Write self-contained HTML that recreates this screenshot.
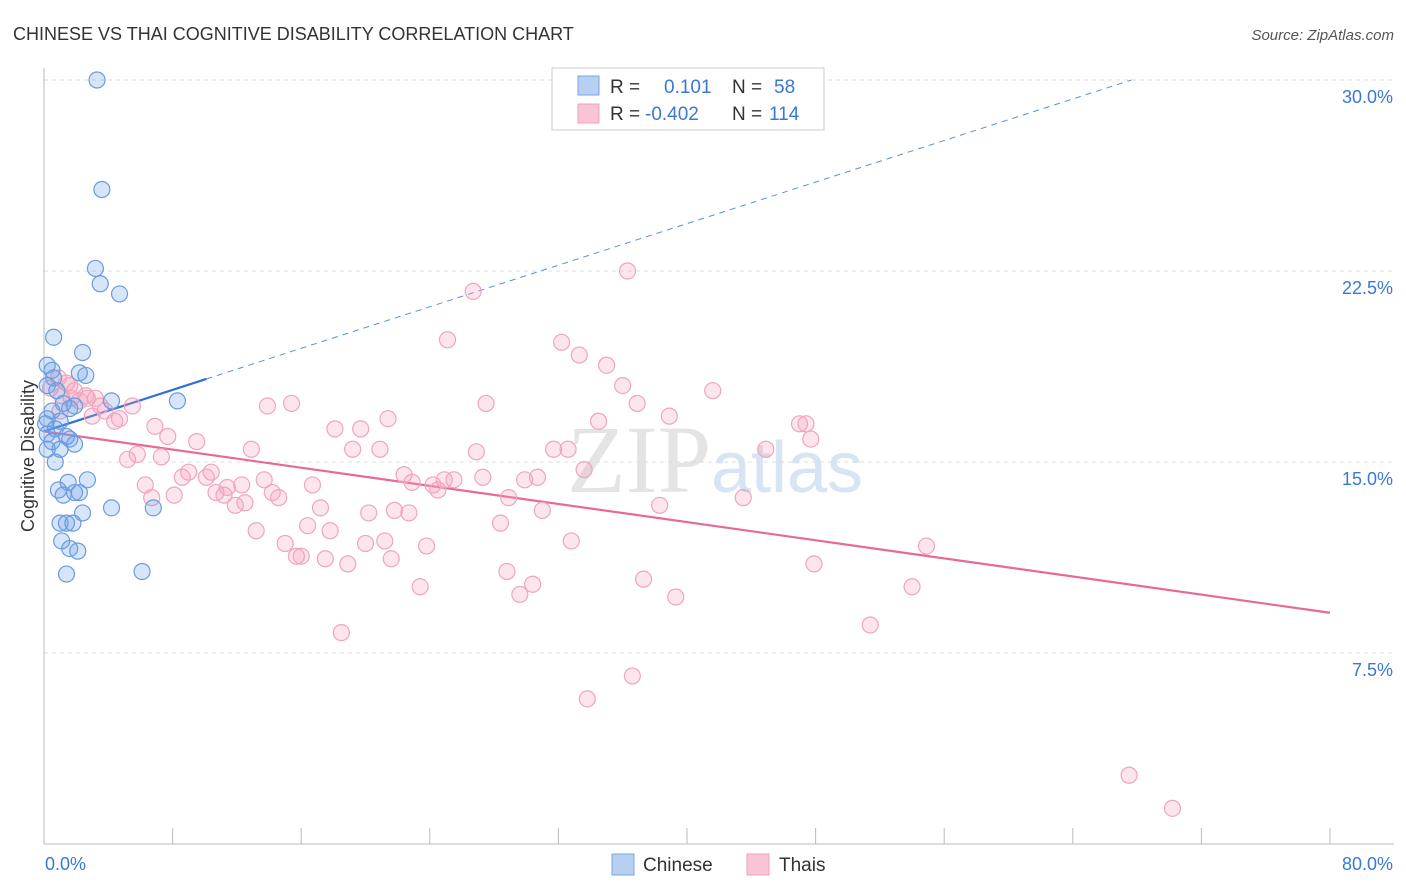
<!DOCTYPE html>
<html><head><meta charset="utf-8"><style>
body{margin:0;background:#fff;font-family:"Liberation Sans",sans-serif;}
svg{display:block}
</style></head><body>
<svg id="chart" width="1406" height="892">
<text x="13" y="40" font-size="18" fill="#333">CHINESE VS THAI COGNITIVE DISABILITY CORRELATION CHART</text>
<text x="1394" y="40" font-size="15" fill="#555" font-style="italic" text-anchor="end">Source: ZipAtlas.com</text>
<text x="715" y="492" font-size="96" fill="#e4e4e4" text-anchor="middle" font-family="Liberation Serif,serif">ZIP<tspan font-family="Liberation Sans,sans-serif" font-size="72" fill="#d6e4f5">atlas</tspan></text>
<g id="grid"></g><g id="axes"></g><g id="trend"></g><g id="pts"></g>
<text transform="translate(34,456) rotate(-90)" font-size="18" fill="#333" text-anchor="middle">Cognitive Disability</text>
<g>
<rect x="552" y="68" width="272" height="62" fill="#fff" stroke="#ccc"/>
<rect x="578" y="76" width="21" height="19" fill="#b7d0f2" stroke="#7aa6e3"/>
<rect x="578" y="104" width="21" height="19" fill="#f9c4d5" stroke="#f0a0bf"/>
<text x="610" y="93" font-size="19" fill="#333">R =</text><text x="664" y="93" font-size="19" fill="#3a78d6">0.101</text>
<text x="732" y="93" font-size="19" fill="#333">N =</text><text x="774" y="93" font-size="19" fill="#3a78d6">58</text>
<text x="610" y="120" font-size="19" fill="#333">R =</text><text x="645" y="120" font-size="19" fill="#3a78d6">-0.402</text>
<text x="732" y="120" font-size="19" fill="#333">N =</text><text x="769" y="120" font-size="19" fill="#3a78d6">114</text>
</g>
<g>
<rect x="612" y="854" width="22" height="21" fill="#b7d0f2" stroke="#7aa6e3"/>
<text x="643" y="871" font-size="19" fill="#333">Chinese</text>
<rect x="747" y="854" width="22" height="21" fill="#f9c4d5" stroke="#f0a0bf"/>
<text x="779" y="871" font-size="19" fill="#333">Thais</text>
</g>
</svg>
<script>
const yTicks=[7.5,15,22.5,30];
const yTickLabels=["7.5%","15.0%","22.5%","30.0%"];
const xTickLabels=["0.0%","80.0%"];
const chineseX=[3.3,3.6,3.2,3.5,4.7,0.6,2.4,0.2,0.5,2.2,2.6,0.6,0.2,0.8,4.2,8.3,1.2,1.9,1.6,0.5,0.2,1.0,0.1,0.7,0.2,1.4,1.6,0.5,1.9,1.0,0.2,0.7,1.5,2.7,0.9,1.2,1.9,2.2,4.2,6.8,2.4,1.0,1.4,1.8,1.1,1.6,2.1,1.4,6.1];
const chineseY=[30.0,25.7,22.6,22.0,21.6,19.9,19.3,18.8,18.6,18.5,18.4,18.3,18.0,17.8,17.4,17.4,17.3,17.2,17.1,17.0,16.7,16.6,16.5,16.3,16.1,16.0,15.9,15.8,15.7,15.5,15.5,15.0,14.2,14.3,13.9,13.7,13.8,13.8,13.2,13.2,13.0,12.6,12.6,12.6,11.9,11.6,11.5,10.6,10.7];
const thaiX=[36.3,26.7,25.1,32.2,33.3,35.0,36.0,41.6,36.9,27.5,13.9,15.4,21.4,34.5,38.9,47.0,47.4,47.7,18.1,19.7,6.9,7.7,9.5,12.9,19.2,20.9,26.9,31.7,32.6,44.9,5.2,5.8,7.3,33.6,22.4,9.0,10.4,8.6,10.1,13.7,11.4,12.3,22.9,24.2,24.5,24.9,25.5,27.3,29.9,30.7,6.3,16.7,8.1,10.7,11.2,14.2,14.6,6.7,11.9,12.5,17.2,20.2,21.8,22.7,28.9,31.0,38.3,43.5,13.2,16.4,17.8,28.4,21.2,20.0,15.0,15.7,16.0,17.5,18.9,21.6,23.8,32.8,54.9,28.8,30.4,37.3,47.9,23.4,29.6,39.3,54.0,18.5,51.4,33.8,36.6,67.5,70.2,0.9,1.4,1.9,2.6,3.2,3.8,0.4,1.1,1.7,2.2,3.0,4.4,4.7,1.0,1.6,2.7,3.5,5.5];
const thaiY=[22.5,21.7,19.8,19.7,19.2,18.8,18.0,17.8,17.3,17.3,17.2,17.3,16.7,16.6,16.8,16.5,16.5,15.9,16.3,16.3,16.4,16.0,15.8,15.5,15.5,15.5,15.4,15.5,15.5,15.5,15.1,15.3,15.2,14.7,14.5,14.6,14.6,14.4,14.4,14.3,14.0,14.1,14.2,14.1,13.9,14.3,14.3,14.4,14.3,14.4,14.1,14.1,13.7,13.8,13.7,13.8,13.6,13.6,13.3,13.4,13.2,13.0,13.1,13.0,13.6,13.1,13.3,13.6,12.3,12.5,12.3,12.6,11.9,11.8,11.8,11.3,11.3,11.2,11.0,11.2,11.7,11.9,11.7,10.7,10.2,10.4,11.0,10.1,9.8,9.7,10.1,8.3,8.6,5.7,6.6,2.7,1.4,18.3,18.1,17.8,17.6,17.5,17.0,17.9,17.6,17.5,17.4,16.8,16.6,16.7,17.0,18.0,17.5,17.2,17.2];
const chineseTrend=[16.2,0.204]; // intercept, slope
const thaiTrend=[16.2,-0.089];
const NS="http://www.w3.org/2000/svg";
const X=v=>44+v*1286/80, Y=v=>844-v*764/30;
function mk(p,t,a){const e=document.createElementNS(NS,t);for(const k in a)e.setAttribute(k,a[k]);document.getElementById(p).appendChild(e);return e;}
yTicks.forEach((t,i)=>{
 const g=mk('grid','line',{x1:44,x2:1394,y1:Y(t),y2:Y(t),stroke:'#ddd','stroke-dasharray':'4,4'});
 
 
 const l=mk('grid','text',{x:1393,y:Y(t)+23,'font-size':18,fill:'#3a78d6','text-anchor':'end'});
 l.textContent=yTickLabels[i];
 
 
});
const ax=mk('axes','line',{x1:44,x2:44,y1:68,y2:844,stroke:'#bbb'});


const bx=mk('axes','line',{x1:44,x2:1394,y1:844,y2:844,stroke:'#bbb'});


for(let i=0;i<=10;i++){const t=mk('axes','line',{x1:X(i*8),x2:X(i*8),y1:828,y2:844,stroke:'#bbb'});
 
 }
[[0,'start',45],[80,'end',1393]].forEach((d,i)=>{const l=mk('axes','text',{x:d[2],y:870,'font-size':18,fill:'#3a78d6','text-anchor':d[1]});
 l.textContent=xTickLabels[i];
 
 });
function pts(xs,ys,fill,stroke,name){xs.forEach((x,i)=>{const c=mk('pts','circle',{cx:X(x),cy:Y(ys[i]),r:8,fill:fill,stroke:stroke,'stroke-width':1.2});
 
 });}
pts(thaiX,thaiY,'rgba(244,160,190,0.28)','#f0a4c0','thai-point');
pts(chineseX,chineseY,'rgba(110,160,230,0.28)','#6a9be0','chinese-point');
const xEnd=(30-chineseTrend[0])/chineseTrend[1];
const b1=mk('trend','line',{x1:X(0),y1:Y(chineseTrend[0]),x2:X(10.1),y2:Y(chineseTrend[0]+chineseTrend[1]*10.1),stroke:'#2f6fd8','stroke-width':2.2});


const b2=mk('trend','line',{x1:X(10.1),y1:Y(chineseTrend[0]+chineseTrend[1]*10.1),x2:X(xEnd),y2:Y(30),stroke:'#5a8fe0','stroke-width':1,'stroke-dasharray':'6,5'});


const p1=mk('trend','line',{x1:X(0),y1:Y(thaiTrend[0]),x2:X(80),y2:Y(thaiTrend[0]+thaiTrend[1]*80),stroke:'#e8689a','stroke-width':2.2});


</script>
</body></html>
